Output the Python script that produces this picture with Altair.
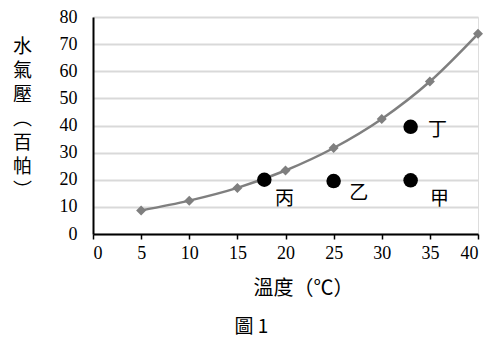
import altair as alt
import pandas as pd

temps = [5, 10, 15, 20, 25, 30, 35, 40]
pressure = [8.7, 12.3, 17.0, 23.4, 31.7, 42.4, 56.2, 73.8]

pt_names = ["丙", "乙", "甲", "丁"]
pt_x = [17.8, 25.0, 33.0, 33.0]
pt_y = [20.0, 19.5, 19.8, 39.5]

lab_x = [19.9, 27.6, 36.0, 35.8]
lab_y = [13.0, 15.2, 13.0, 38.3]

curve = pd.DataFrame({"t": temps, "p": pressure, "kind": "curve", "name": ""})
pts = pd.DataFrame({"t": pt_x, "p": pt_y, "kind": "dot", "name": pt_names})
labs = pd.DataFrame({"t": lab_x, "p": lab_y, "kind": "label", "name": pt_names})
data = pd.concat([curve, pts, labs], ignore_index=True)

serif = "Liberation Serif"
cjk = "Noto Sans CJK TC"

xs = alt.Scale(domain=[0, 40], nice=False)
ys = alt.Scale(domain=[0, 80], nice=False)

x_axis = alt.Axis(
    values=list(range(0, 41, 5)), grid=False, domainColor="black", domainWidth=2,
    tickColor="black", tickSize=5, tickWidth=1.5, labelFont=serif, labelFontSize=18,
    labelColor="black", labelPadding=5, labelOverlap=False, title="溫度（℃）", titleFont=cjk,
    titleFontSize=20, titleFontWeight="normal", titleColor="black",
    titleX=210, titleY=44,
)
y_axis = alt.Axis(
    values=list(range(0, 81, 10)), grid=True, gridColor="#d9d9d9", gridWidth=2,
    domainColor="black", domainWidth=2, ticks=False, labelFont=serif,
    labelFontSize=18, labelColor="black", labelPadding=16, labelOverlap=False,
    title=["水", "氣", "壓", "︵", "百", "帕", "︶"], titleFont=cjk,
    titleFontSize=19, titleFontWeight="normal", titleColor="black", titleAngle=0,
    titleLineHeight=24, titleX=-71, titleY=20, titleBaseline="top", titleAlign="center",
)

base = alt.Chart(data).encode(
    x=alt.X("t:Q", scale=xs, axis=x_axis),
    y=alt.Y("p:Q", scale=ys, axis=y_axis),
)

line = base.transform_filter(alt.datum.kind == "curve").mark_line(
    color="#7f7f7f", strokeWidth=2.5, interpolate="monotone"
)
marks = base.transform_filter(alt.datum.kind == "curve").mark_point(
    shape="diamond", filled=True, color="#7f7f7f", size=100, opacity=1
)
dots = base.transform_filter(alt.datum.kind == "dot").mark_circle(
    color="black", size=210, opacity=1
)
texts = base.transform_filter(alt.datum.kind == "label").mark_text(
    font=cjk, fontSize=19, color="black", align="center", baseline="middle"
).encode(text="name:N")

chart = alt.layer(line, marks, dots, texts).properties(
    width=385, height=217,
    autosize=alt.AutoSizeParams(type="none"),
    padding={"left": 93, "top": 17, "right": 24, "bottom": 113},
    title=alt.TitleParams(
        text="圖 1", orient="bottom", anchor="start", font=cjk, fontSize=19,
        fontWeight="normal", color="black", dx=222, offset=20,
    ),
).configure_view(stroke=None).configure(background="white")

chart.save("out.html", embed_options={"renderer": "svg", "actions": False})
